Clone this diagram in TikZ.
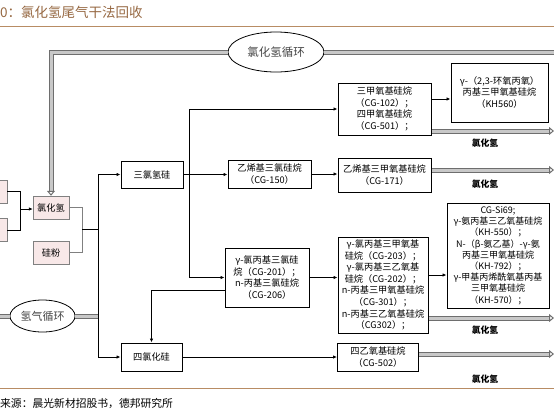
\documentclass[tikz,border=0pt]{standalone}
\usepackage{fontspec}
\setmainfont{Noto Sans CJK SC}
\usepackage{tikz}
\usetikzlibrary{arrows.meta, shapes.geometric, calc}
\definecolor{rbrown}{RGB}{184,140,100}
\definecolor{rtitle}{RGB}{150,104,66}
\definecolor{rpink}{RGB}{248,232,232}
\definecolor{rpipe}{RGB}{110,110,110}
\definecolor{rpipein}{RGB}{200,200,200}
\definecolor{rtext}{RGB}{70,70,70}
\tikzset{
  box/.style={draw=black, line width=1pt, rectangle, align=center, inner sep=1pt,
    font=\fontsize{9.2}{11.6}\selectfont},
  pinkbox/.style={draw=gray, fill=rpink, rectangle, inner sep=1pt,
    minimum width=36pt, minimum height=23pt, font=\fontsize{9.2}{10}\selectfont},
  link/.style={line width=0.9pt, -{Latex[length=4pt, width=3.5pt]}},
  pipe/.style={draw=rpipe, line width=1pt, double=rpipein, double distance=3pt},
  pipetip/.style={-{Triangle[open, length=5pt, width=8pt]}},
  hcl/.style={font=\fontsize{8.8}{10}\selectfont\bfseries, inner sep=1pt},
  cycle/.style={ellipse, draw, line width=0.8pt, text=rtext, inner sep=1pt}
}
\begin{document}
\begin{tikzpicture}[x=1pt, y=-1pt]
\useasboundingbox (0,0) rectangle (554,418);

% ---- title and rules ----
\node[anchor=west, inner sep=0, text=rtitle, font=\fontsize{13.5}{15}\selectfont] (title) at (0,12)
  {0：氯化氢尾气干法回收};
\draw[rbrown, line width=0.8pt] (0,26) -- (554,26);
\draw[rbrown, line width=0.8pt] (0,388) -- (554,388);
\node[anchor=west, inner sep=0, font=\fontsize{10.8}{12}\selectfont] (source) at (0,403)
  {来源：晨光新材招股书，德邦研究所};
\coordinate (rim) at (554,0);
\coordinate (lrim) at (0,0);

% ---- feed side ----
\node[pinkbox, minimum width=37pt] (feedA) at (-11.5,191.5) {};
\node[pinkbox, minimum width=37pt] (feedB) at (-11.5,230) {};
\node[pinkbox] (hclbox) at (51,207.5) {氯化氢};
\node[pinkbox] (sifen) at (51,252.5) {硅粉};
\coordinate (j1) at (20,209);
\coordinate (j2) at (82,229);
\coordinate (m1) at (98,229);
\draw[line width=0.9pt] (feedA.east) -| (j1);
\draw[line width=0.9pt] (feedB.east) -| (j1);
\draw[link] (j1) -- (j1 -| hclbox.west);
\draw[gray, line width=0.6pt] (hclbox.east) -| (j2);
\draw[gray, line width=0.6pt] (sifen.east) -| (j2);
\draw[line width=0.9pt] (j2) -- (m1);

% ---- recycle loops ----
\node[cycle, minimum width=96pt, minimum height=40pt, font=\fontsize{11.5}{13}\selectfont] (hclcyc) at (276,52) {氯化氢循环};
\node[cycle, minimum width=61pt, minimum height=32pt, font=\fontsize{11}{12}\selectfont] (h2cyc) at (42.5,316) {氢气循环};
\draw[pipe, pipetip] (hclcyc.west) -| (hclbox.north);
\draw[pipe] (hclcyc.east) -- (hclcyc.east -| rim);
\draw[pipe] (h2cyc.west -| lrim) -- (h2cyc.west);
\draw[pipe] (h2cyc.east) -- (h2cyc.east -| m1);

% ---- chlorosilanes ----
\node[box, minimum width=62pt, minimum height=27pt] (tcs) at (152,174.5) {三氯氢硅};
\node[box, minimum width=61pt, minimum height=28pt] (stc) at (151.5,357) {四氯化硅};
\draw[link] (m1) |- (tcs.west);
\draw[link] (m1) |- (stc.west);
\coordinate (b1) at (189,174.5);
\node[box, minimum width=83pt, minimum height=28pt] (vtcs) at (269.5,174) {乙烯基三氯硅烷\\（CG-150）};
\node[box, minimum width=84pt, minimum height=59pt] (cptcs) at (267,277.5)
  {γ-氯丙基三氯硅\\烷（CG-201）；\\n-丙基三氯硅烷\\（CG-206）};
\draw[link] (tcs.east) -- (tcs.east -| vtcs.west);

% ---- alkoxysilanes ----
\node[box, minimum width=93pt, minimum height=52pt] (tmos) at (384.5,109)
  {三甲氧基硅烷\\（CG-102）；\\四甲氧基硅烷\\（CG-501）；};
\node[box, minimum width=93pt, minimum height=34pt] (vtms) at (384.5,175) {乙烯基三甲氧基硅烷\\（CG-171）};
\node[box, minimum width=90pt, minimum height=96pt] (cpts) at (383,285)
  {γ-氯丙基三甲氧基\\硅烷（CG-203）；\\γ-氯丙基三乙氧基\\硅烷（CG-202）；\\n-丙基三甲氧基硅烷\\（CG-301）；\\n-丙基三乙氧基硅烷\\（CG302）；};
\node[box, minimum width=81pt, minimum height=28pt] (teos) at (378,357) {四乙氧基硅烷\\（CG-502）};
\draw[link] (b1) |- (tmos.west);
\draw[link] (b1) |- (cptcs.west);
\draw[link] (vtcs.east) -- (vtcs.east -| vtms.west);
\draw[link] (cptcs.east) -- (cptcs.east -| cpts.west);
\draw[link] (stc.east) -- (teos.west);
\coordinate (c1) at ([yshift=-13pt]cptcs.west);
\draw[link] (c1) -| (stc.north);

% ---- coupling agents ----
\node[box, minimum width=97pt, minimum height=59pt] (kh560) at (499.5,92.5)
  {γ-（2,3-环氧丙氧）\\丙基三甲氧基硅烷\\（KH560）};
\node[box, minimum width=102pt, minimum height=105pt, font=\fontsize{9}{11.2}\selectfont] (khmix) at (498,255.5)
  {CG-Si69;\\γ-氨丙基三乙氧基硅烷\\（KH-550）；\\N-（β-氨乙基）-γ-氨\\丙基三甲氧基硅烷\\（KH-792）；\\γ-甲基丙烯酰氧基丙基\\三甲氧基硅烷\\（KH-570）；};
\coordinate (a1) at ([yshift=10pt]tmos.east);
\coordinate (a2) at ([yshift=10pt]cpts.east);
\draw[link] (a1) -- (a1 -| kh560.west);
\draw[link] (a2) -- (a2 -| khmix.west);

% ---- HCl off-gas ----
\coordinate (p1) at ([yshift=-22pt]tmos.east);
\coordinate (p2) at ([yshift=5pt]vtms.east);
\coordinate (p3) at ([yshift=-33pt]cpts.east);
\coordinate (p4) at ([yshift=3pt]teos.east);
\foreach \p in {p1,p2,p3,p4}
  \draw[pipe, pipetip] (\p) -- (\p -| rim);
\node[hcl] (l1) at (485,143) {氯化氢};
\node[hcl] (l2) at (485,184) {氯化氢};
\node[hcl] (l3) at (485,330) {氯化氢};
\node[hcl] (l4) at (485,379) {氯化氢};
\end{tikzpicture}
\end{document}
